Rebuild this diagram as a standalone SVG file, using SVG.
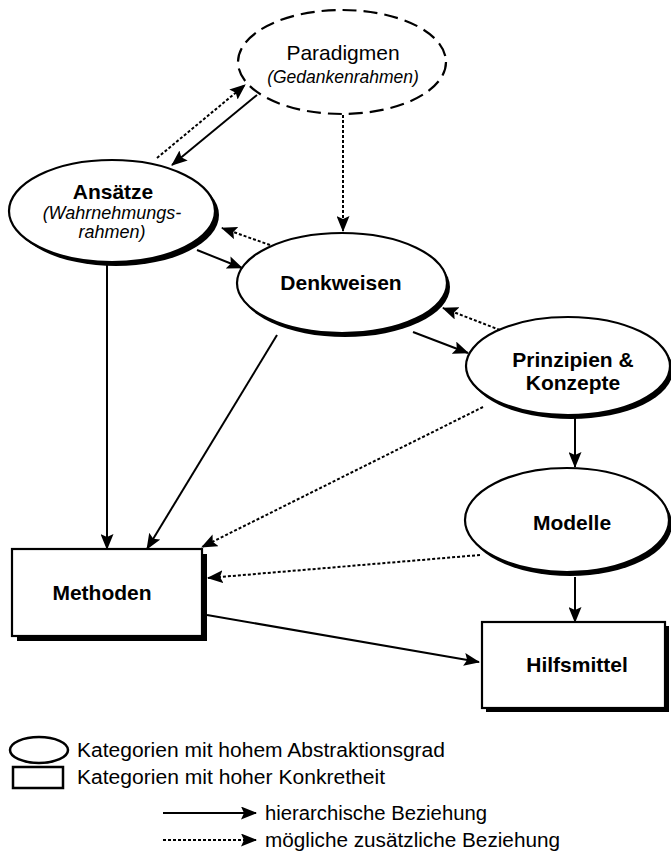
<svg xmlns="http://www.w3.org/2000/svg" width="671" height="852" viewBox="0 0 671 852">
<style>
.node{fill:#fff;stroke:#000;stroke-width:2.2}
.shadow{fill:#000}
.lbl{font-family:"Liberation Sans",Arial,sans-serif;font-weight:bold;font-size:21px;text-anchor:middle;fill:#000}
.reg{font-family:"Liberation Sans",Arial,sans-serif;font-size:21px;text-anchor:middle;fill:#000}
.it{font-family:"Liberation Sans",Arial,sans-serif;font-style:italic;font-size:17.5px;text-anchor:middle;fill:#000}
.leg{font-family:"Liberation Sans",Arial,sans-serif;font-size:20px;fill:#000}
.solid{stroke:#000;stroke-width:2;fill:none;marker-end:url(#ah)}
.dot{stroke:#000;stroke-width:2;fill:none;stroke-dasharray:3 2;marker-end:url(#ah)}
</style>
<defs>
<marker id="ah" markerUnits="userSpaceOnUse" markerWidth="16" markerHeight="13" viewBox="0 0 16 13" refX="15" refY="6.5" orient="auto">
<path d="M0,0 L16,6.5 L0,13 L3,6.5 z" fill="#000"/>
</marker>
</defs>
<rect width="671" height="852" fill="#fff"/>
<g id="paradigmen">
<ellipse cx="342" cy="62" rx="104" ry="52" fill="#fff" stroke="#000" stroke-width="2.2" stroke-dasharray="14 7"/>
<text class="reg" x="343" y="60">Paradigmen</text>
<text class="it" x="343" y="83">(Gedankenrahmen)</text>
</g>
<g id="ansaetze">
<ellipse class="shadow" cx="116" cy="215" rx="103" ry="51"/>
<ellipse class="node" cx="112" cy="211" rx="103" ry="51"/>
<text class="lbl" x="113" y="199">Ansätze</text>
<text class="it" x="112" y="219" style="font-size:18px">(Wahrnehmungs-</text>
<text class="it" x="112" y="238" style="font-size:18px">rahmen)</text>
</g>
<g id="denkweisen">
<ellipse class="shadow" cx="345" cy="287" rx="105" ry="50"/>
<ellipse class="node" cx="342" cy="283" rx="105" ry="50"/>
<text class="lbl" x="341" y="290">Denkweisen</text>
</g>
<g id="prinzipien">
<ellipse class="shadow" cx="571" cy="370" rx="102" ry="49"/>
<ellipse class="node" cx="568" cy="366" rx="102" ry="49"/>
<text class="lbl" x="573" y="367">Prinzipien &amp;</text>
<text class="lbl" x="573" y="390">Konzepte</text>
</g>
<g id="modelle">
<ellipse class="shadow" cx="570" cy="524" rx="102" ry="52"/>
<ellipse class="node" cx="567" cy="520" rx="102" ry="52"/>
<text class="lbl" x="572" y="530">Modelle</text>
</g>
<g id="methoden">
<rect class="shadow" x="17" y="554" width="190" height="87"/>
<rect class="node" x="12" y="549" width="190" height="87"/>
<text class="lbl" x="102" y="600">Methoden</text>
</g>
<g id="hilfsmittel">
<rect class="shadow" x="486" y="626" width="183" height="86"/>
<rect class="node" x="482" y="622" width="183" height="86"/>
<text class="lbl" x="577" y="672">Hilfsmittel</text>
</g>
<g id="connectors">
<line class="dot" x1="157" y1="158" x2="245" y2="85"/>
<line class="solid" x1="257" y1="95" x2="172" y2="165"/>
<line class="dot" x1="343" y1="115" x2="343" y2="231"/>
<line class="dot" x1="270" y1="245" x2="222" y2="228"/>
<line class="solid" x1="197" y1="250" x2="242" y2="268"/>
<line class="dot" x1="500" y1="330" x2="443" y2="308"/>
<line class="solid" x1="413" y1="332" x2="468" y2="353"/>
<line class="solid" x1="107" y1="265" x2="107" y2="549"/>
<line class="solid" x1="277" y1="335" x2="147" y2="549"/>
<line class="dot" x1="483" y1="407" x2="202" y2="547"/>
<line class="dot" x1="480" y1="555" x2="208" y2="578"/>
<line class="solid" x1="575" y1="417" x2="575" y2="467"/>
<line class="solid" x1="575" y1="577" x2="575" y2="622"/>
<line class="solid" x1="207" y1="615" x2="479" y2="662"/>
</g>
<g id="legend">
<ellipse cx="39" cy="750" rx="29" ry="13" fill="#fff" stroke="#000" stroke-width="2.5"/>
<rect x="13" y="767" width="50" height="21" fill="#fff" stroke="#000" stroke-width="2.5"/>
<text class="leg" x="77" y="757" textLength="368" lengthAdjust="spacingAndGlyphs">Kategorien mit hohem Abstraktionsgrad</text>
<text class="leg" x="77" y="784" textLength="308" lengthAdjust="spacingAndGlyphs">Kategorien mit hoher Konkretheit</text>
<line class="solid" x1="163" y1="813" x2="256" y2="813"/>
<line class="dot" x1="163" y1="840" x2="256" y2="840"/>
<text class="leg" x="265" y="820" textLength="222" lengthAdjust="spacingAndGlyphs">hierarchische Beziehung</text>
<text class="leg" x="265" y="847" textLength="295" lengthAdjust="spacingAndGlyphs">mögliche zusätzliche Beziehung</text>
</g>
</svg>
